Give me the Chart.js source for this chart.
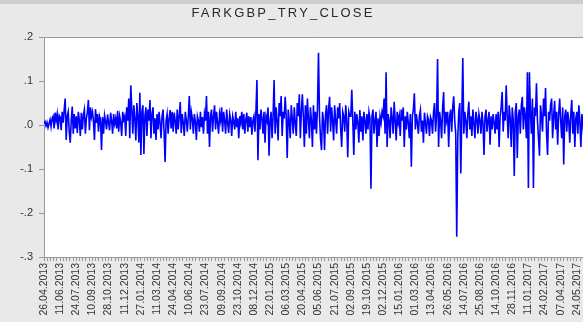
<!DOCTYPE html>
<html lang="en">
<head>
    <meta charset="UTF-8">
    <title>FARKGBP_TRY_CLOSE</title>
    <script src="https://cdn.jsdelivr.net/npm/chart.js"></script>
    <style>
        html, body {
            margin: 0;
            padding: 0;
            width: 583px;
            height: 322px;
            overflow: hidden;
            background: #e9e9e9;
        }
        #topBar {
            position: absolute;
            left: 0; top: 0;
            width: 583px; height: 4px;
            background: #cdcdcd;
        }
        #chartTitle {
            position: absolute;
            left: 0; top: 5px;
            width: 566px;
            text-align: center;
            font-family: "Liberation Sans", Arial, sans-serif;
            font-size: 13px;
            letter-spacing: 2.2px;
            color: #2a2a2a;
        }
        #chartBox {
            position: absolute;
            left: 0; top: 0;
            width: 595px; height: 322px;
        }
    </style>
</head>
<body>
    <div id="topBar"></div>
    <div id="chartBox"><canvas id="diffChart" width="595" height="322"></canvas></div>
    <div id="chartTitle">FARKGBP_TRY_CLOSE</div>

    <script>
        // Daily change of GBP/TRY close, 26.04.2013 onwards (16 trading days per row)
        var closeDiff = [
            .004,.008,-.002,.006,-.006,.003,.012,-.004,.015,.02,-.008,.028,.01,.025,-.01,.022,
            .018,-.012,.03,.005,.035,.06,-.034,.02,.03,-.015,-.04,.01,.042,-.02,.025,-.008,
            .02,-.018,.03,.012,-.025,.028,-.01,.022,.035,-.02,.015,.03,.057,-.012,.04,.018,
            .03,.01,-.034,.036,.005,.025,-.015,.02,.012,-.057,.018,-.02,.022,.008,-.01,.024,
            .005,-.012,.028,.01,-.02,.025,.003,.015,-.008,.032,-.015,.02,.006,-.025,.03,.012,
            .02,-.025,.04,.01,.06,-.03,.09,.035,-.02,.045,.015,-.035,.05,.02,-.04,.073,
            -.068,.03,.045,-.066,.02,.04,-.025,.035,.01,.057,-.03,.025,.04,-.02,.015,-.034,
            .025,-.01,.03,.005,-.03,.02,.035,-.015,-.084,.01,.025,-.02,.015,.034,-.008,.03,
            -.015,.028,.01,-.02,.035,-.01,.02,.052,-.018,.025,.005,-.025,.03,.012,-.015,.02,
            .066,-.01,.03,.015,-.02,.025,.008,-.034,.02,.01,-.015,.03,-.005,.018,-.02,.025,
            .01,.066,-.02,.03,-.05,.02,.035,-.015,.02,.045,-.01,.03,.005,-.02,.025,.01,
            .04,-.015,.03,.01,-.02,.035,.005,-.018,.025,.012,-.025,.02,.008,-.01,.03,-.005,
            .015,-.03,.02,.005,.03,-.01,.025,-.02,.012,.028,-.015,.02,-.005,.018,-.022,.01,
            .02,-.015,.03,.102,-.08,.025,-.01,.035,.015,-.02,.03,-.04,.02,.01,.04,-.07,
            .01,.03,-.03,.02,.102,-.02,.04,.01,-.035,.05,.02,.066,-.025,.03,.015,.064,
            .02,-.075,.035,.01,-.03,.045,.015,-.02,.04,.005,-.025,.05,.02,.07,-.03,.03,
            .07,.02,-.05,.045,-.02,.06,.015,-.03,.04,.01,-.05,.045,-.01,.03,-.02,.04,
            .164,.02,-.03,-.057,.03,.01,-.057,.025,.045,-.02,.035,.064,-.015,.04,.01,-.035,
            .045,.01,-.02,.04,.015,.05,-.01,-.05,.03,.02,-.015,.045,.01,-.073,.03,.02,
            .02,.08,.01,-.068,.03,-.01,.025,.005,-.04,.034,-.015,.02,-.035,.03,.01,-.02,
            .025,-.01,.03,.015,-.145,.02,.035,-.02,.01,.03,-.05,.015,-.025,.02,.005,.03,
            .02,.06,-.02,.12,-.05,.025,.01,-.03,.04,.015,-.02,.053,.01,-.035,.03,.005,
            .02,-.025,.035,.01,.04,-.05,.02,-.01,.03,.005,-.03,.025,-.095,.02,.035,.072,
            -.01,.025,.005,-.02,.02,.034,-.015,.01,-.04,.028,.005,-.02,.02,.012,-.025,.018,
            .01,-.02,.03,.05,-.015,.02,.15,-.05,.03,.01,-.03,.04,.075,-.02,.03,.01,
            .03,-.05,.02,.035,-.015,.04,.065,.01,-.02,-.254,-.03,.03,.05,-.11,.02,.152,
            -.02,.03,.01,-.03,.025,.053,-.01,.02,-.025,.035,.005,-.03,.03,.015,-.02,.025,
            .01,-.02,.03,.005,-.068,.02,.035,-.015,.01,.03,-.045,.02,-.01,.025,.005,-.02,
            .025,-.01,.03,-.05,.02,.04,.075,-.015,.03,.01,.09,.02,-.03,.045,.015,-.05,
            .04,.01,-.116,.03,.05,-.075,.02,.035,-.02,.045,.064,-.01,.04,.02,-.03,.12,
            -.143,.12,.03,-.02,.06,-.143,.04,.02,.095,.01,-.03,-.07,.045,.02,-.015,.06,
            .02,.084,-.02,-.068,.03,.01,.045,.06,-.03,.02,.055,-.01,.03,-.045,.025,.06,
            .01,-.03,.04,-.09,.02,.035,-.015,.03,.01,-.04,.025,.057,-.02,.03,-.05,.015,
            .03,-.02,.045,.01,-.05,.025,.005,-.03,.035,.01,-.02,.03,-.015,.02,.005,-.01,
            .015,-.005,.01
        ];

        // Date shown every 16 trading days
        var dateLabels = [
            '26.04.2013', '11.06.2013', '24.07.2013', '10.09.2013', '28.10.2013', '11.12.2013',
            '27.01.2014', '11.03.2014', '24.04.2014', '10.06.2014', '23.07.2014', '09.09.2014',
            '23.10.2014', '08.12.2014', '22.01.2015', '06.03.2015', '20.04.2015', '05.06.2015',
            '21.07.2015', '02.09.2015', '19.10.2015', '02.12.2015', '15.01.2016', '01.03.2016',
            '13.04.2016', '26.05.2016', '14.07.2016', '25.08.2016', '14.10.2016', '28.11.2016',
            '11.01.2017', '24.02.2017', '07.04.2017', '24.05.2017'
        ];
        var labelEvery = 16;

        var yTicks = [-0.3, -0.2, -0.1, 0, 0.1, 0.2];

        var points = closeDiff.map(function (v, i) {
            return { x: i, y: v };
        });

        // white plot area plus a frame line along the top
        var plotFrame = {
            id: 'plotFrame',
            beforeDraw: function (chart) {
                var a = chart.chartArea, c = chart.ctx;
                c.save();
                c.fillStyle = '#ffffff';
                c.fillRect(a.left, a.top, a.right - a.left, a.bottom - a.top);
                c.restore();
            },
            afterDraw: function (chart) {
                var a = chart.chartArea, c = chart.ctx;
                c.save();
                c.strokeStyle = '#9a9a9a';
                c.lineWidth = 1;
                c.beginPath();
                c.moveTo(a.left, a.top + 0.5);
                c.lineTo(a.right, a.top + 0.5);
                c.stroke();
                c.restore();
            }
        };

        function fmtY(v) {
            var t = Math.round(v * 10);
            if (t === 0) return '.0';
            return (t < 0 ? '-' : '') + '.' + Math.abs(t);
        }

        var ctx = document.getElementById('diffChart').getContext('2d');
        var diffChart = new Chart(ctx, {
            type: 'line',
            data: {
                datasets: [{
                    data: points,
                    borderColor: '#0000ff',
                    borderWidth: 1.6,
                    pointRadius: 0,
                    tension: 0,
                    fill: false
                }]
            },
            options: {
                responsive: false,
                animation: false,
                layout: { padding: { top: 37, left: 0, right: 0, bottom: 0 } },
                plugins: {
                    legend: { display: false },
                    title: { display: false },
                    tooltip: { enabled: false }
                },
                scales: {
                    x: {
                        type: 'linear',
                        min: 0,
                        max: closeDiff.length - 1,
                        afterFit: function (scale) {
                            scale.height = 65;
                            // the series runs off the right edge, no room kept for labels
                            scale.paddingLeft = 0;
                            scale.paddingRight = 0;
                        },
                        border: { display: true, color: '#9a9a9a' },
                        grid: {
                            drawOnChartArea: false,
                            drawTicks: true,
                            tickLength: 4,
                            color: '#9a9a9a'
                        },
                        ticks: {
                            stepSize: labelEvery / 5,
                            autoSkip: false,
                            minRotation: 90,
                            maxRotation: 90,
                            padding: 2,
                            color: '#333',
                            font: { family: 'Liberation Sans', size: 10.5 },
                            callback: function (v) {
                                var k = v / labelEvery;
                                if (Math.abs(k - Math.round(k)) < 1e-6) {
                                    return dateLabels[Math.round(k)] || '';
                                }
                                return '';
                            }
                        }
                    },
                    y: {
                        min: yTicks[0],
                        max: yTicks[yTicks.length - 1],
                        afterFit: function (scale) { scale.width = 44; },
                        afterBuildTicks: function (scale) {
                            scale.ticks = yTicks.map(function (v) { return { value: v }; });
                        },
                        border: { display: true, color: '#9a9a9a' },
                        grid: {
                            drawOnChartArea: false,
                            drawTicks: true,
                            tickLength: 5,
                            color: '#9a9a9a'
                        },
                        ticks: {
                            padding: 6,
                            color: '#333',
                            font: { family: 'Liberation Sans', size: 11 },
                            callback: function (v) { return fmtY(v); }
                        }
                    }
                }
            },
            plugins: [plotFrame]
        });
    </script>
</body>
</html>
